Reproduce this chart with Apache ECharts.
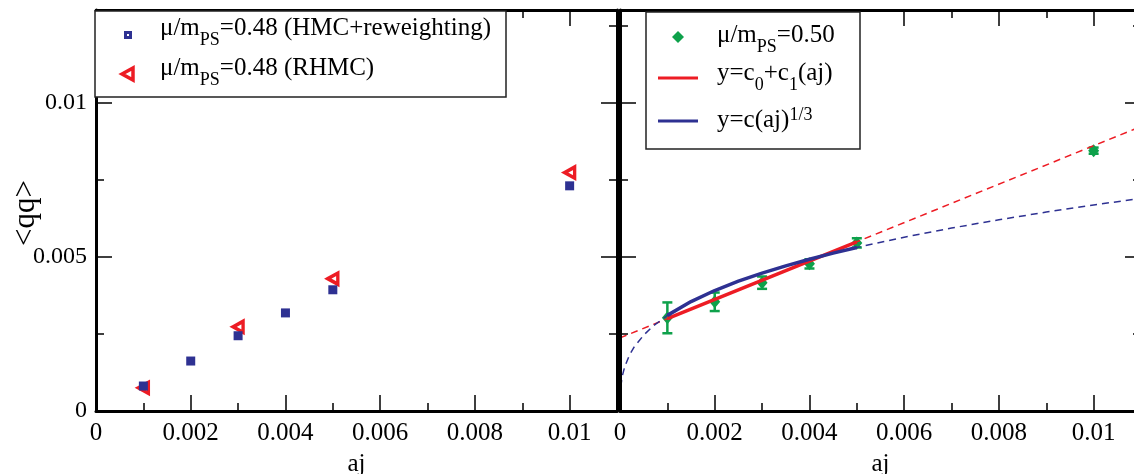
<!DOCTYPE html>
<html>
<head>
<meta charset="utf-8">
<script src="https://cdn.jsdelivr.net/npm/echarts@6/dist/echarts.min.js"></script>
<style>
  html, body { margin: 0; padding: 0; background: #fff; }
  #chart { width: 1134px; height: 474px; }
</style>
</head>
<body>
<div id="chart"></div>
<script>
const FONT = "'Liberation Serif', 'Times New Roman', serif"
const BLUE = '#2e3192', RED = '#ed1c24', GREEN = '#0ea14b'

// left panel, mu/mPS = 0.48
const ajHmc = [0.001, 0.002, 0.003, 0.004, 0.005, 0.01]
const qqHmc = [0.00081, 0.00162, 0.00244, 0.00318, 0.00393, 0.0073]
const ajRhmc = [0.001, 0.003, 0.005, 0.01]
const qqRhmc = [0.00075, 0.00273, 0.00429, 0.00773]

// right panel, mu/mPS = 0.50
const ajRight = [0.001, 0.002, 0.003, 0.004, 0.005, 0.01]
const qqRight = [0.00302, 0.00354, 0.00416, 0.00477, 0.00545, 0.00844]
const qqRightErr = [0.0005, 0.0003, 0.0002, 0.00015, 0.00015, 0.0001]

// fit parameters and where the curves are sampled
const c0 = 0.00237, c1 = 0.623   // y = c0 + c1 (aj)
const cRoot = 0.031              // y = c (aj)^(1/3)
const fitFrom = 0.001, fitTo = 0.005
const curveX = [0, 0.000005, 0.00002, 0.00005, 0.0001, 0.0002, 0.0003, 0.0005, 0.0007,
  0.001, 0.0015, 0.002, 0.0025, 0.003, 0.0035, 0.004, 0.0045, 0.005,
  0.006, 0.007, 0.008, 0.009, 0.01, 0.011]

const xMax = 0.011, yMax = 0.013

const linFit = x => c0 + c1 * x
const rootFit = x => cRoot * Math.cbrt(x)
const pairs = (xs, ys) => xs.map((x, i) => [x, ys[i]])
const inFit = x => x >= fitFrom - 1e-12 && x <= fitTo + 1e-12

// one axis: major ones carry the frame line, minor ones only short ticks
function axis(grid, pos, interval, len, opts) {
  opts = opts || {}
  const isX = pos === 'bottom' || pos === 'top'
  return {
    type: 'value',
    gridIndex: grid,
    position: pos,
    min: 0,
    max: isX ? xMax : yMax,
    interval: interval,
    z: 5,
    axisLine: {show: len > 10, onZero: false, lineStyle: {color: '#000', width: 3}},
    axisTick: {show: true, inside: true, length: len, lineStyle: {color: '#000', width: 1.5}},
    splitLine: {show: false},
    axisLabel: {
      show: !!opts.labels,
      color: '#000',
      fontFamily: FONT,
      fontSize: isX ? 25 : 24,
      margin: isX ? 10 : 9,
      showMaxLabel: false
    },
    name: opts.name || '',
    nameLocation: 'middle',
    nameGap: opts.nameGap || 0,
    nameTextStyle: {color: '#000', fontFamily: FONT, fontSize: 25}
  }
}

const xAxes = [], yAxes = []
for (let g = 0; g < 2; g++) {
  xAxes.push(axis(g, 'bottom', 0.002, 16, {labels: true, name: 'aj', nameGap: 41}))
  xAxes.push(axis(g, 'bottom', 0.001, 8))
  xAxes.push(axis(g, 'top', 0.002, 16))
  xAxes.push(axis(g, 'top', 0.001, 8))
  yAxes.push(axis(g, 'left', 0.005, 16, {labels: g === 0}))
  yAxes.push(axis(g, 'left', 0.0025, 8))
  yAxes.push(axis(g, 'right', 0.005, 16))
  yAxes.push(axis(g, 'right', 0.0025, 8))
}

const rich = {
  m: {fontFamily: FONT, fontSize: 25, lineHeight: 27, verticalAlign: 'top', color: '#000'},
  s: {fontFamily: FONT, fontSize: 18, lineHeight: 18, padding: [15, 0, 0, 0], verticalAlign: 'top', color: '#000'},
  mb: {fontFamily: FONT, fontSize: 25, lineHeight: 27, verticalAlign: 'bottom', color: '#000'},
  sup: {fontFamily: FONT, fontSize: 18, lineHeight: 18, padding: [0, 0, 15, 0], verticalAlign: 'top', color: '#000'}
}

const legendText = (x, y, text) => ({type: 'text', x: x, y: y, z: 20, style: {text: text, rich: rich}})

const myChart = echarts.init(document.getElementById('chart'))
myChart.setOption({
  animation: false,
  backgroundColor: '#fff',
  grid: [
    {left: 96, top: 10, width: 521, height: 401, outerBoundsMode: 'none', containLabel: false},
    {left: 620, top: 10, width: 521, height: 401, outerBoundsMode: 'none', containLabel: false}
  ],
  xAxis: xAxes,
  yAxis: yAxes,
  series: [
    {
      name: 'RHMC',
      type: 'scatter',
      xAxisIndex: 0, yAxisIndex: 0,
      symbol: 'path://M0,5 L10,0 L10,10 Z',
      symbolSize: [10, 11],
      itemStyle: {color: '#fff', borderColor: RED, borderWidth: 3.5, opacity: 1},
      data: pairs(ajRhmc, qqRhmc)
    },
    {
      name: 'HMC+reweighting',
      type: 'scatter',
      xAxisIndex: 0, yAxisIndex: 0,
      symbol: 'rect',
      symbolSize: 9,
      itemStyle: {color: BLUE, opacity: 1},
      data: pairs(ajHmc, qqHmc)
    },
    {
      name: 'lin dashed',
      type: 'line',
      xAxisIndex: 4, yAxisIndex: 4,
      symbol: 'none',
      lineStyle: {color: RED, width: 1.5, type: [7, 5]},
      data: [0, xMax].map(x => [x, linFit(x)])
    },
    {
      name: 'root dashed',
      type: 'line',
      xAxisIndex: 4, yAxisIndex: 4,
      symbol: 'none',
      lineStyle: {color: BLUE, width: 1.5, type: [7, 5]},
      data: curveX.map(x => [x, rootFit(x)])
    },
    {
      name: 'err',
      type: 'custom',
      xAxisIndex: 4, yAxisIndex: 4,
      renderItem: function (params, api) {
        const x = api.value(0), y = api.value(1), e = api.value(2)
        const top = api.coord([x, y + e]), bot = api.coord([x, y - e])
        const st = {stroke: GREEN, lineWidth: 2.5}
        return {
          type: 'group',
          children: [
            {type: 'line', shape: {x1: top[0], y1: top[1], x2: bot[0], y2: bot[1]}, style: st},
            {type: 'line', shape: {x1: top[0] - 5, y1: top[1], x2: top[0] + 5, y2: top[1]}, style: st},
            {type: 'line', shape: {x1: bot[0] - 5, y1: bot[1], x2: bot[0] + 5, y2: bot[1]}, style: st}
          ]
        }
      },
      data: ajRight.map((x, i) => [x, qqRight[i], qqRightErr[i]])
    },
    {
      name: 'mu 0.50',
      type: 'scatter',
      xAxisIndex: 4, yAxisIndex: 4,
      symbol: 'diamond',
      symbolSize: [11, 13],
      itemStyle: {color: GREEN, opacity: 1},
      data: pairs(ajRight, qqRight)
    },
    {
      name: 'lin fit',
      type: 'line',
      xAxisIndex: 4, yAxisIndex: 4,
      symbol: 'none',
      lineStyle: {color: RED, width: 3.5},
      data: [fitFrom, fitTo].map(x => [x, linFit(x)])
    },
    {
      name: 'root fit',
      type: 'line',
      xAxisIndex: 4, yAxisIndex: 4,
      symbol: 'none',
      lineStyle: {color: BLUE, width: 3.5},
      data: curveX.filter(inFit).map(x => [x, rootFit(x)])
    }
  ],
  graphic: [
    // y axis title
    {type: 'text', x: 26, y: 213, rotation: Math.PI / 2, z: 20,
      style: {text: '<qq>', fontFamily: FONT, fontSize: 31, fill: '#000', align: 'center', verticalAlign: 'middle'}},
    // left legend
    {type: 'rect', z: 19, shape: {x: 95, y: 11, width: 411, height: 86}, style: {fill: '#fff', stroke: '#222', lineWidth: 1.5}},
    {type: 'rect', z: 20, shape: {x: 124, y: 31, width: 8, height: 8}, style: {fill: BLUE}},
    {type: 'rect', z: 21, shape: {x: 127, y: 34, width: 2, height: 2}, style: {fill: '#fff'}},
    {type: 'polygon', z: 20, shape: {points: [[122, 74], [133, 68], [133, 80]]}, style: {fill: '#fff', stroke: RED, lineWidth: 3.5}},
    legendText(160, 16, '{m|μ/m}{s|PS}{m|=0.48 (HMC+reweighting)}'),
    legendText(160, 56, '{m|μ/m}{s|PS}{m|=0.48 (RHMC)}'),
    // right legend
    {type: 'rect', z: 19, shape: {x: 646, y: 12, width: 214, height: 137}, style: {fill: '#fff', stroke: '#222', lineWidth: 1.5}},
    {type: 'polygon', z: 20, shape: {points: [[678, 31], [684, 37], [678, 43], [672, 37]]}, style: {fill: GREEN}},
    {type: 'line', z: 20, shape: {x1: 658, y1: 78, x2: 698, y2: 78}, style: {stroke: RED, lineWidth: 3}},
    {type: 'line', z: 20, shape: {x1: 658, y1: 121, x2: 698, y2: 121}, style: {stroke: BLUE, lineWidth: 3}},
    legendText(717, 23, '{m|μ/m}{s|PS}{m|=0.50}'),
    legendText(717, 61, '{m|y=c}{s|0}{m|+c}{s|1}{m|(aj)}'),
    legendText(717, 106, '{mb|y=c(aj)}{sup|1/3}')
  ]
})
</script>
</body>
</html>
